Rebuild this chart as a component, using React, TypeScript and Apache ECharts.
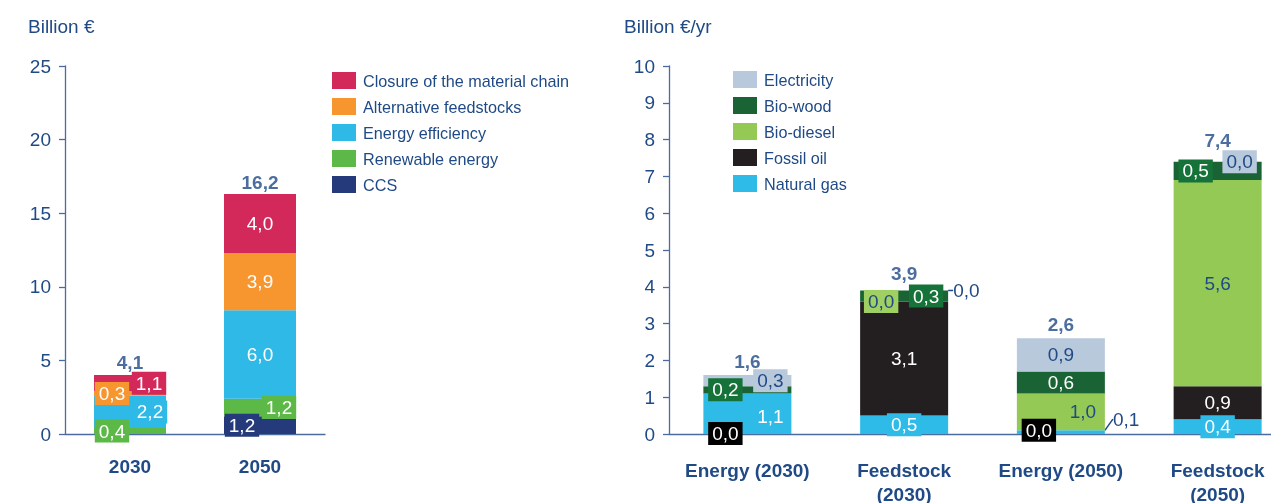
import React, { useEffect, useRef } from "react";
import * as echarts from "echarts";

// ---- Data ----
const leftCategories = ["2030", "2050"];
const ccs = [0, 1.2];
const renewableEnergy = [0.4, 1.2];
const energyEfficiency = [2.2, 6.0];
const alternativeFeedstocks = [0.3, 3.9];
const closureMaterialChain = [1.1, 4.0];
const leftTotals = [4.1, 16.2];

const rightCategories = ["Energy (2030)", "Feedstock\n(2030)", "Energy (2050)", "Feedstock\n(2050)"];
const naturalGas = [1.1, 0.5, 0.1, 0.4];
const fossilOil = [0.0, 3.1, 0.0, 0.9];
const bioDiesel = [0.0, 0.0, 1.0, 5.6];
const bioWood = [0.2, 0.3, 0.6, 0.5];
const electricity = [0.3, 0.0, 0.9, 0.0];
const rightTotals = [1.6, 3.9, 2.6, 7.4];

const leftTicks = { min: 0, max: 25, interval: 5 };
const rightTicks = { min: 0, max: 10, interval: 1 };

// ---- Style ----
const NAVY = "#1f4a86";
const AXIS = "#4b6c9e";
const WHITE = "#ffffff";
const FONT = "'Liberation Sans', Arial, Helvetica, sans-serif";

type Place = { dx?: number; dy?: number; box?: boolean; outside?: boolean; distance?: number } | null;
type Def = { name: string; data: number[]; color: string; box?: string; text: string; place: Place[] };

const fmt = (v: number) => v.toFixed(1).replace(".", ",");

const leftDefs: Def[] = [
  { name: "CCS", data: ccs, color: "#253a7b", text: WHITE, place: [null, { dx: -18, box: true }] },
  { name: "Renewable energy", data: renewableEnergy, color: "#5cb947", text: WHITE, place: [{ dx: -18, box: true }, { dx: 19, box: true }] },
  { name: "Energy efficiency", data: energyEfficiency, color: "#2eb9e7", text: WHITE, place: [{ dx: 20, box: true }, { dx: 0 }] },
  { name: "Alternative feedstocks", data: alternativeFeedstocks, color: "#f7952f", text: WHITE, place: [{ dx: -18, box: true }, { dx: 0 }] },
  { name: "Closure of the material chain", data: closureMaterialChain, color: "#d2285a", text: WHITE, place: [{ dx: 19, box: true }, { dx: 0 }] },
];

const rightDefs: Def[] = [
  { name: "Natural gas", data: naturalGas, color: "#2ebbe8", text: WHITE, place: [{ dx: 23, dy: 3 }, { dx: 0, box: true }, { outside: true, distance: 8, dy: -13 }, { dx: 0, box: true }] },
  { name: "Fossil oil", data: fossilOil, color: "#231f20", box: "#000000", text: WHITE, place: [{ dx: -22, dy: 40, box: true }, { dx: 0 }, { dx: -22, box: true }, { dx: 0 }] },
  { name: "Bio-diesel", data: bioDiesel, color: "#95c955", box: "#a0d063", text: NAVY, place: [null, { dx: -23, box: true }, { dx: 22 }, { dx: 0 }] },
  { name: "Bio-wood", data: bioWood, color: "#1a6334", box: "#157238", text: WHITE, place: [{ dx: -22, box: true }, { dx: 22, box: true }, { dx: 0 }, { dx: -22, box: true }] },
  { name: "Electricity", data: electricity, color: "#b9c9dc", text: NAVY, place: [{ dx: 23, box: true }, { outside: true, distance: 5 }, { dx: 0 }, { dx: 22, box: true }] },
];

function buildBars(defs: Def[], axis: number, barWidth: number) {
  return defs.map((d) => ({
    type: "bar",
    name: d.name,
    stack: "s" + axis,
    xAxisIndex: axis,
    yAxisIndex: axis,
    barWidth,
    silent: true,
    itemStyle: { color: d.color },
    labelLayout: (params: any) => {
      const p = d.place[params.dataIndex];
      if (!p) return {};
      return { dx: p.outside ? 0 : p.dx || 0, dy: p.dy || 0 };
    },
    data: d.data.map((v, i) => {
      const p = d.place[i];
      if (!p) return { value: v, label: { show: false } };
      const label: any = {
        show: true,
        formatter: fmt(v),
        color: d.text,
        fontSize: 19,
        fontFamily: FONT,
        lineHeight: 19,
        padding: [2, 4],
        backgroundColor: p.box ? d.box || d.color : "transparent",
      };
      if (p.outside) {
        label.position = "right";
        label.distance = p.distance;
        label.color = NAVY;
        label.backgroundColor = "transparent";
        label.padding = [2, 0];
        return { value: v, label, labelLine: { show: true, lineStyle: { color: NAVY, width: 1.5 } } };
      }
      label.position = "inside";
      return { value: v, label };
    }),
  }));
}

function buildTotals(values: number[], axis: number, dys: number[]) {
  return {
    type: "scatter",
    xAxisIndex: axis,
    yAxisIndex: axis,
    symbolSize: 1,
    silent: true,
    itemStyle: { color: "rgba(0,0,0,0)" },
    z: 10,
    data: values.map((v, i) => ({
      value: v,
      label: {
        show: true,
        position: "top",
        distance: 4,
        offset: [0, dys[i]],
        formatter: fmt(v),
        color: NAVY,
        fontWeight: "bold",
        fontSize: 19,
        fontFamily: FONT,
      },
    })),
  };
}

const yAxisCommon = {
  type: "value",
  axisLine: { show: true, lineStyle: { color: AXIS, width: 1.3 } },
  axisTick: { show: true, inside: false, length: 6, lineStyle: { color: AXIS, width: 1.3 } },
  splitLine: { show: false },
  axisLabel: { color: NAVY, fontSize: 19, fontFamily: FONT, margin: 14 },
};

const xAxisCommon = {
  type: "category",
  axisLine: { show: true, lineStyle: { color: AXIS, width: 1.3 } },
  axisTick: { show: false },
  splitLine: { show: false },
};

const legendCommon = {
  orient: "vertical",
  icon: "rect",
  itemWidth: 24,
  itemHeight: 17,
  itemGap: 9,
  padding: 0,
  selectedMode: false,
  textStyle: { color: NAVY, fontSize: 16.2, fontFamily: FONT, lineHeight: 17, padding: [0, 0, 0, 2] },
};

export default function App() {
  const ref = useRef<HTMLDivElement>(null);
  useEffect(() => {
    if (!ref.current) return;
    const chart = echarts.init(ref.current, null, { renderer: "svg" });
    const option: any = {
      animation: false,
      textStyle: { fontFamily: FONT },
      graphic: [
        { type: "text", left: 28, top: 17, style: { text: "Billion €", fill: NAVY, fontSize: 19, fontFamily: FONT } },
        { type: "text", left: 624, top: 17, style: { text: "Billion €/yr", fill: NAVY, fontSize: 19, fontFamily: FONT } },
      ],
      legend: [
        {
          ...legendCommon,
          left: 332,
          top: 72,
          data: ["Closure of the material chain", "Alternative feedstocks", "Energy efficiency", "Renewable energy", "CCS"],
        },
        {
          ...legendCommon,
          left: 733,
          top: 71,
          data: ["Electricity", "Bio-wood", "Bio-diesel", "Fossil oil", "Natural gas"],
        },
      ],
      grid: [
        { left: 65, top: 66, width: 260, height: 368, outerBoundsMode: "none", containLabel: false },
        { left: 669, top: 66, width: 627, height: 368, outerBoundsMode: "none", containLabel: false },
      ],
      xAxis: [
        {
          ...xAxisCommon,
          gridIndex: 0,
          data: leftCategories,
          axisLabel: { color: NAVY, fontSize: 19, fontWeight: "bold", fontFamily: FONT, margin: 20, lineHeight: 24 },
        },
        {
          ...xAxisCommon,
          gridIndex: 1,
          data: rightCategories,
          axisLabel: { color: NAVY, fontSize: 19, fontWeight: "bold", fontFamily: FONT, margin: 24, lineHeight: 24, interval: 0 },
        },
      ],
      yAxis: [
        { ...yAxisCommon, gridIndex: 0, ...leftTicks },
        { ...yAxisCommon, gridIndex: 1, ...rightTicks },
      ],
      series: [
        ...buildBars(leftDefs, 0, 72),
        buildTotals(leftTotals, 0, [3, 1]),
        ...buildBars(rightDefs, 1, 88),
        buildTotals(rightTotals, 1, [0, -3, 0, -7]),
      ],
    };
    chart.setOption(option);
    return () => chart.dispose();
  }, []);
  return <div ref={ref} style={{ position: "fixed", left: 0, top: 0, width: 1271, height: 503 }} />;
}
